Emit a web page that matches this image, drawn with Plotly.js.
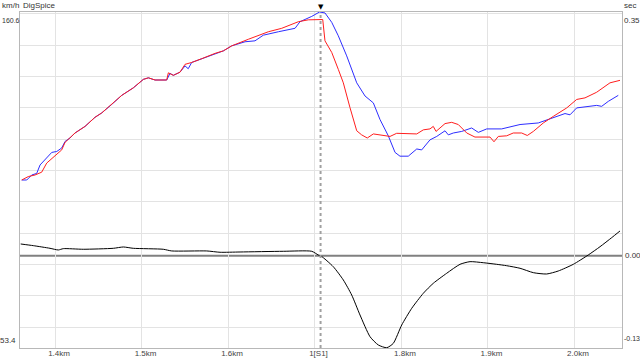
<!DOCTYPE html>
<html>
<head>
<meta charset="utf-8">
<script src="https://cdn.plot.ly/plotly-3.0.1.min.js"></script>
<style>html,body{margin:0;padding:0;background:#fff;}#chart{width:640px;height:360px;}</style>
</head>
<body>
<div id="chart"></div>
<script>
// Distance (km) and speed (km/h) of the blue lap
const blueKm = [1.3615,1.3673,1.3731,1.3788,1.3827,1.3904,1.3962,1.4020,1.4077,1.4116,1.4173,1.4231,1.4347,1.4462,1.4540,1.4655,1.4771,1.4905,1.5021,1.5079,1.5156,1.5291,1.5329,1.5368,1.5445,1.5503,1.5540,1.5580,1.5696,1.5850,1.5946,1.6043,1.6197,1.6312,1.6408,1.6582,1.6775,1.6832,1.6968,1.7058,1.7121,1.7199,1.7275,1.7372,1.7488,1.7584,1.7680,1.7757,1.7853,1.7931,1.7988,1.8084,1.8182,1.8239,1.8335,1.8413,1.8509,1.8547,1.8605,1.8702,1.8817,1.8894,1.8991,1.9164,1.9376,1.9587,1.9723,1.9896,1.9954,2.0031,2.0262,2.0320,2.0397,2.0512];
const blueSpeed = [107.0,107.0,108.6,109.1,111.8,114.0,115.8,116.1,117.2,119.3,120.4,122.0,124.1,127.0,128.4,131.1,134.0,136.4,139.1,139.6,138.9,138.9,141.0,140.4,141.4,143.4,142.5,144.5,145.7,147.4,148.2,149.8,151.1,151.4,153.2,154.3,155.4,157.5,159.2,160.6,160.3,157.3,153.0,146.6,138.0,133.8,131.6,126.3,121.1,115.8,114.6,114.6,116.9,116.6,119.8,120.9,122.7,121.4,122.0,122.5,123.6,122.2,123.3,123.3,124.7,125.2,126.5,128.2,127.8,130.0,130.8,130.5,132.1,134.0];

// Distance (km) and speed (km/h) of the red lap
const redKm = [1.3615,1.3691,1.3769,1.3846,1.3904,1.4020,1.4077,1.4116,1.4173,1.4231,1.4347,1.4462,1.4540,1.4655,1.4771,1.4905,1.5021,1.5079,1.5156,1.5291,1.5310,1.5368,1.5445,1.5503,1.5580,1.5696,1.5850,1.5946,1.6043,1.6235,1.6466,1.6621,1.6813,1.6928,1.7095,1.7121,1.7199,1.7275,1.7333,1.7410,1.7488,1.7545,1.7610,1.7680,1.7795,1.7873,1.7950,1.8182,1.8258,1.8335,1.8373,1.8405,1.8509,1.8586,1.8662,1.8760,1.8855,1.9029,1.9075,1.9125,1.9222,1.9298,1.9395,1.9460,1.9530,1.9645,1.9761,1.9916,2.0031,2.0127,2.0262,2.0416,2.0532];
const redSpeed = [107.0,108.1,108.6,109.5,112.4,115.3,116.6,119.0,120.4,122.0,124.1,127.0,128.4,131.1,134.0,136.4,139.1,139.6,138.9,138.9,141.2,140.4,141.4,143.9,144.5,145.7,147.4,148.2,149.8,151.9,154.3,155.4,157.5,158.1,158.2,151.4,147.7,142.3,138.0,130.1,122.7,121.4,120.4,121.7,121.1,120.9,121.9,121.7,123.0,123.3,124.1,122.5,125.0,125.4,124.7,122.0,120.7,120.7,119.2,120.9,121.1,122.0,122.0,121.2,122.5,125.2,127.3,130.0,132.7,133.2,135.0,138.0,138.8];

// Time delta (sec) between the laps
const deltaKm = [1.3603,1.3749,1.3942,1.4038,1.4096,1.4327,1.4674,1.4790,1.4905,1.5252,1.5349,1.5754,1.5908,1.6139,1.6639,1.6968,1.7043,1.7075,1.7217,1.7333,1.7430,1.7526,1.7642,1.7738,1.7835,1.7911,1.8008,1.8124,1.8258,1.8373,1.8528,1.8682,1.8798,1.8951,1.9106,1.9222,1.9376,1.9530,1.9684,1.9818,1.9992,2.0165,2.0301,2.0436,2.0532];
const deltaSec = [0.0168,0.0144,0.0106,0.0082,0.0101,0.0092,0.0106,0.0125,0.0106,0.0092,0.0068,0.0068,0.0049,0.0053,0.0063,0.0063,0.0010,-0.0004,-0.0158,-0.0349,-0.0565,-0.0852,-0.1164,-0.1283,-0.1322,-0.1259,-0.0996,-0.0756,-0.0540,-0.0397,-0.0253,-0.0124,-0.0086,-0.0101,-0.0124,-0.0144,-0.0181,-0.0244,-0.0263,-0.0220,-0.0124,0.0010,0.0129,0.0259,0.0355];

// Axis ticks and labels
const xTickVals = [1.4,1.5,1.6,1.7,1.8,1.9,2.0];
const xTickText = ['1.4km','1.5km','1.6km','1[S1]','1.8km','1.9km','2.0km'];
const speedRange = [53.4, 160.6];
const deltaRange = [-0.1326, 0.35];
const xRange = [1.3595, 2.0555];
const sectorKm = 1.707;

const font = 'Liberation Sans, Arial, sans-serif';
const txt = '#333333';

const traces = [
  {x: blueKm, y: blueSpeed, type: 'scatter', mode: 'lines', line: {color: 'rgb(45,45,255)', width: 1}, hoverinfo: 'skip'},
  {x: redKm, y: redSpeed, type: 'scatter', mode: 'lines', line: {color: 'rgb(255,30,30)', width: 1}, hoverinfo: 'skip'},
  {x: deltaKm, y: deltaSec, yaxis: 'y2', type: 'scatter', mode: 'lines', line: {color: '#000000', width: 1, shape: 'spline', smoothing: 0.6}, hoverinfo: 'skip'}
];

function ann(text, x, y, xanchor, extra) {
  return Object.assign({text: text, x: x, y: y, xref: 'paper', yref: 'paper', xanchor: xanchor, yanchor: 'middle',
    showarrow: false, font: {family: font, size: 8, color: txt}, borderpad: 0}, extra || {});
}
const small = {family: font, size: 7, color: txt};

const layout = {
  width: 640, height: 360,
  margin: {l: 20, r: 18, t: 12, b: 12, pad: 0},
  paper_bgcolor: '#ffffff', plot_bgcolor: '#ffffff',
  showlegend: false,
  font: {family: font, size: 8, color: txt},
  xaxis: {
    range: xRange, tickvals: xTickVals, ticktext: xTickText,
    showgrid: true, gridcolor: '#e3e3e3', gridwidth: 1,
    zeroline: false, showline: true, linecolor: '#b8b8b8', linewidth: 1, mirror: true,
    ticks: '', ticklabelshift: 4, ticklabelstandoff: -3, automargin: false,
    tickfont: {family: font, size: 8, color: '#444'}
  },
  yaxis: {
    range: speedRange, tick0: 0, dtick: 10, showticklabels: false,
    showgrid: true, gridcolor: '#e3e3e3', gridwidth: 1,
    zeroline: false, showline: true, linecolor: '#b8b8b8', linewidth: 1, mirror: true,
    ticks: '', automargin: false
  },
  yaxis2: {
    range: deltaRange, overlaying: 'y', side: 'right', showgrid: false, showticklabels: false,
    zeroline: false, showline: false, ticks: '', automargin: false
  },
  shapes: [
    {type: 'line', xref: 'paper', x0: 0, x1: 1, yref: 'y2', y0: 0, y1: 0, line: {color: '#808080', width: 2}, layer: 'below'},
    {type: 'line', xref: 'x', x0: sectorKm, x1: sectorKm, yref: 'paper', y0: 0, y1: 1, line: {color: '#a0a0a0', width: 2, dash: 'dot'}, layer: 'above'}
  ],
  annotations: [
    ann('km/h', -0.0315, 1.018, 'left'),
    ann('DigSpice', 0.0033, 1.018, 'left'),
    ann('160.6', -0.0315, 0.976, 'left', {font: small}),
    ann('53.4', -0.005, 0.021, 'right'),
    ann('sec', 1.0017, 1.018, 'left'),
    ann('0.35', 1.0017, 0.976, 'left'),
    ann('0.00', 1.0035, 0, 'left', {yref: 'y2'}),
    ann('-0.13', 1.0017, 0.027, 'left', {font: small}),
    {text: '▼', x: sectorKm, y: 1.0, xref: 'x', yref: 'paper', xanchor: 'center', yanchor: 'bottom',
     showarrow: false, font: {family: 'DejaVu Sans', size: 7, color: '#000'}, borderpad: 0}
  ]
};

Plotly.newPlot('chart', traces, layout, {staticPlot: true, displayModeBar: false});
</script>
</body>
</html>
